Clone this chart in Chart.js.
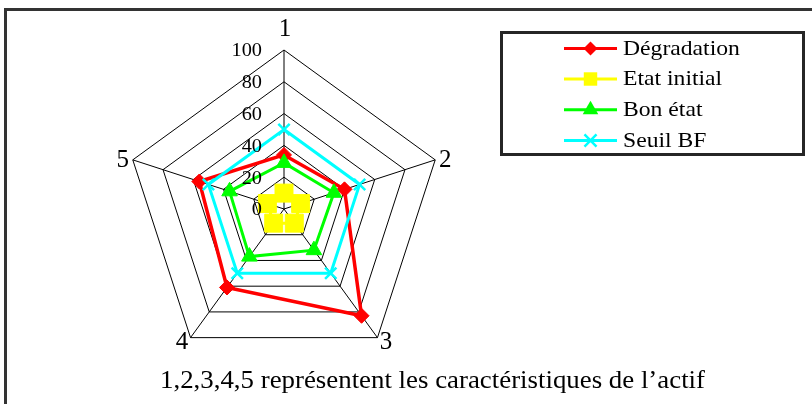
<!DOCTYPE html>
<html>
<head>
<meta charset="utf-8">
<script src="https://cdn.jsdelivr.net/npm/chart.js@4.4.1/dist/chart.umd.min.js"></script>
<style>
  html, body { margin: 0; padding: 0; background: #ffffff; }
  #wrap { position: relative; width: 812px; height: 404px; overflow: hidden; }
  canvas { display: block; }
</style>
</head>
<body>
<div id="wrap"><canvas id="c" width="812" height="404"></canvas></div>
<script>
// ---- data ----
const categories = ['1', '2', '3', '4', '5'];
const seriesNames = ['Dégradation', 'Etat initial', 'Bon état', 'Seuil BF'];
const degradation = [34, 40, 83, 61, 56];
const etatInitial = [10, 11, 11, 11, 11];
const bonEtat = [29, 33, 32, 37, 36];
const seuilBF = [50, 50, 50, 50, 50];
const tickValues = [0, 20, 40, 60, 80, 100];
const captionText = '1,2,3,4,5 représentent les caractéristiques de l’actif';

// ---- styles ----
const SERIF = '"Liberation Serif", "Times New Roman", serif';
const styles = [
  { color: '#FF0000', shape: 'rectRot', radius: 7.5, legendRadius: 7, order: 4, width: 3.5 },
  { color: '#FFFF00', shape: 'rect', radius: 12.7, legendRadius: 9.5, order: 3, width: 3 },
  { color: '#00FF00', shape: 'triangle', radius: 9, legendRadius: 9, order: 2, width: 3 },
  { color: '#00FFFF', shape: 'crossRot', radius: 8, legendRadius: 8.5, order: 1, width: 3 }
];
const seriesData = [degradation, etatInitial, bonEtat, seuilBF];

function drawMarker(ctx, shape, x, y, r, color) {
  ctx.save();
  ctx.fillStyle = color;
  ctx.strokeStyle = color;
  ctx.beginPath();
  if (shape === 'rectRot') {
    ctx.moveTo(x, y - r); ctx.lineTo(x + r, y); ctx.lineTo(x, y + r); ctx.lineTo(x - r, y); ctx.closePath();
    ctx.fill();
  } else if (shape === 'rect') {
    const s = r * Math.SQRT1_2;
    ctx.rect(x - s, y - s, 2 * s, 2 * s); ctx.fill();
  } else if (shape === 'triangle') {
    for (let k = 0; k < 3; k++) {
      const a = k * 2 * Math.PI / 3;
      const px = x + Math.sin(a) * r, py = y - Math.cos(a) * r;
      if (k === 0) ctx.moveTo(px, py); else ctx.lineTo(px, py);
    }
    ctx.closePath(); ctx.fill();
  } else if (shape === 'crossRot') {
    const d = r * Math.SQRT1_2;
    ctx.lineWidth = 2.5;
    ctx.moveTo(x - d, y - d); ctx.lineTo(x + d, y + d);
    ctx.moveTo(x - d, y + d); ctx.lineTo(x + d, y - d);
    ctx.stroke();
  }
  ctx.restore();
}

function drawText(ctx, text, x, y, size, align, baseline, sx) {
  ctx.save();
  ctx.font = size + 'px ' + SERIF;
  ctx.fillStyle = '#000000';
  ctx.textAlign = align;
  ctx.textBaseline = baseline;
  ctx.translate(x, y);
  ctx.scale(sx, 1);
  ctx.fillText(text, 0, 0);
  ctx.restore();
}

const decorPlugin = {
  id: 'decor',
  beforeDraw(chart) {
    const ctx = chart.ctx;
    ctx.save();
    ctx.fillStyle = '#ffffff';
    ctx.fillRect(0, 0, chart.width, chart.height);
    ctx.restore();
  },
  afterDraw(chart) {
    const ctx = chart.ctx;
    const scale = chart.scales.r;
    // outer frame
    ctx.save();
    ctx.strokeStyle = '#333333';
    ctx.lineWidth = 3;
    ctx.strokeRect(5.5, 9.5, 900, 500);
    ctx.restore();

    // tick labels
    tickValues.forEach(v => {
      const p = scale.getPointPositionForValue(0, v);
      drawText(ctx, String(v), p.x - 22, p.y + 1.5, 19, 'right', 'middle', 1.07);
    });

    // point labels
    categories.forEach((lab, i) => {
      if (i === 0) {
        const p = scale.getPointPosition(i, scale.drawingArea + 14);
        drawText(ctx, lab, p.x + 1, p.y, 25, 'center', 'alphabetic', 1.0);
      } else {
        const p = scale.getPointPosition(i, scale.drawingArea + 4);
        const align = p.x > scale.xCenter ? 'left' : 'right';
        drawText(ctx, lab, p.x, p.y + 1.5, 25, align, 'middle', 1.0);
      }
    });

    // legend
    ctx.save();
    ctx.strokeStyle = '#262626';
    ctx.lineWidth = 3;
    ctx.strokeRect(501.5, 32.5, 302, 122);
    ctx.restore();
    const rowY = [48.5, 79, 109.7, 140.5];
    seriesNames.forEach((name, i) => {
      const y = rowY[i];
      const st = styles[i];
      ctx.save();
      ctx.strokeStyle = st.color;
      ctx.lineWidth = 3;
      ctx.beginPath();
      ctx.moveTo(564, y); ctx.lineTo(617, y);
      ctx.stroke();
      ctx.restore();
      drawMarker(ctx, st.shape, 590.5, y, st.legendRadius, st.color);
      drawText(ctx, name, 623, y + 0.5, 22, 'left', 'middle', 1.075);
    });

    // caption
    ctx.save();
    ctx.font = '25px ' + SERIF;
    const w = ctx.measureText(captionText).width;
    ctx.restore();
    drawText(ctx, captionText, 432.5, 381, 25, 'center', 'middle', 545 / w);
  }
};

const datasets = seriesNames.map((name, i) => ({
  label: name,
  data: seriesData[i],
  order: styles[i].order,
  borderColor: styles[i].color,
  backgroundColor: styles[i].color,
  borderWidth: styles[i].width,
  fill: false,
  tension: 0,
  pointStyle: styles[i].shape,
  pointRadius: styles[i].radius,
  pointHoverRadius: styles[i].radius,
  pointBackgroundColor: styles[i].color,
  pointBorderColor: styles[i].color,
  pointBorderWidth: styles[i].shape === 'crossRot' ? 2.5 : 1
}));

new Chart(document.getElementById('c'), {
  type: 'radar',
  data: { labels: categories, datasets },
  options: {
    responsive: false,
    animation: false,
    devicePixelRatio: 1,
    layout: { padding: { left: 125, right: 369, top: 50, bottom: 36 } },
    plugins: { legend: { display: false }, tooltip: { enabled: false } },
    scales: {
      r: {
        min: 0,
        max: 100,
        ticks: { display: false, stepSize: 20 },
        pointLabels: { display: false },
        grid: { color: '#000000', lineWidth: 1 },
        angleLines: { color: '#000000', lineWidth: 1 }
      }
    }
  },
  plugins: [decorPlugin]
});
</script>
</body>
</html>
